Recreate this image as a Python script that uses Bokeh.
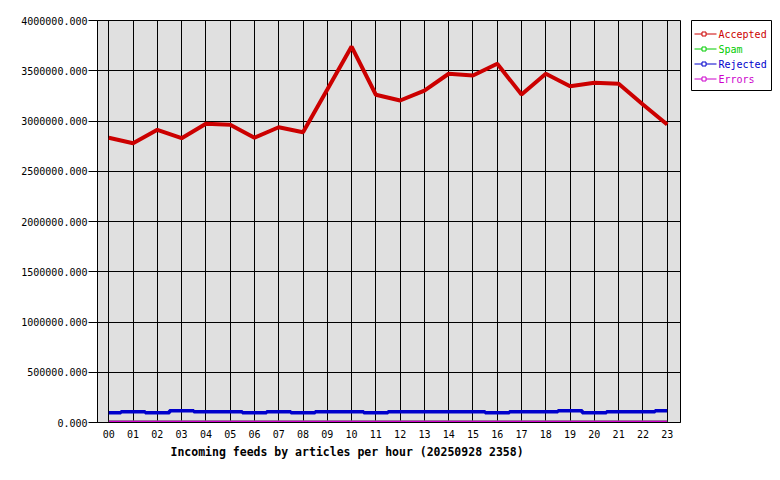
from bokeh.plotting import figure
from bokeh.models import (Range1d, FixedTicker, PrintfTickFormatter, Title, ColumnDataSource)
from bokeh.layouts import row
from bokeh.core.properties import value
from bokeh.embed import file_html
from bokeh.resources import INLINE

# ---- data ----
hours = list(range(24))
hour_labels = ["00", "01", "02", "03", "04", "05", "06", "07", "08", "09", "10", "11",
               "12", "13", "14", "15", "16", "17", "18", "19", "20", "21", "22", "23"]
accepted = [2833000, 2779000, 2912000, 2829000, 2972000, 2962000, 2833000, 2938000,
            2888000, 3313000, 3741000, 3261000, 3204000, 3303000, 3470000, 3453000,
            3569000, 3264000, 3470000, 3346000, 3380000, 3370000, 3164000, 2965000]
spam = [0, 0, 0, 0, 0, 0, 0, 0, 0, 0, 0, 0, 0, 0, 0, 0, 0, 0, 0, 0, 0, 0, 0, 0]
rejected = [96000, 107000, 96000, 118000, 107000, 107000, 96000, 107000,
            96000, 107000, 107000, 96000, 107000, 107000, 107000, 107000,
            96000, 107000, 107000, 118000, 96000, 107000, 107000, 118000]
errors = [0, 0, 0, 0, 0, 0, 0, 0, 0, 0, 0, 0, 0, 0, 0, 0, 0, 0, 0, 0, 0, 0, 0, 0]
y_ticks = [0, 500000, 1000000, 1500000, 2000000, 2500000, 3000000, 3500000, 4000000]
series_names = ["Accepted", "Spam", "Rejected", "Errors"]
series_colors = ["#cc0000", "#00cc00", "#0000cc", "#cc00cc"]
title_text = "Incoming feeds by articles per hour (20250928 2358)"

FONT = "DejaVu Sans Mono"

p = figure(width=690, height=475, output_backend="svg", toolbar_location=None,
           x_range=Range1d(-0.465, 23.548), y_range=Range1d(0, 4000000),
           min_border_left=97, min_border_right=10, min_border_top=20, min_border_bottom=53)
p.background_fill_color = "#e0e0e0"
p.border_fill_color = "white"
p.outline_line_color = "black"
p.outline_line_width = 1

# axes
p.xaxis.ticker = FixedTicker(ticks=hours)
p.xaxis.major_label_overrides = {h: l for h, l in zip(hours, hour_labels)}
p.yaxis.ticker = FixedTicker(ticks=y_ticks)
p.yaxis.formatter = PrintfTickFormatter(format="%.3f")
for ax in (p.xaxis, p.yaxis):
    ax.axis_line_color = "black"
    ax.minor_tick_line_color = None
    ax.major_label_text_font = FONT
    ax.major_label_text_font_size = "10px"
    ax.major_label_text_color = "black"
    ax.major_tick_line_color = "black"
    ax.major_tick_in = 0
p.xaxis.major_tick_out = 0
p.xaxis.major_label_standoff = 7
p.yaxis.major_tick_out = 9
p.yaxis.major_label_standoff = 1

for g in (p.xgrid, p.ygrid):
    g.grid_line_color = "black"
    g.grid_line_alpha = 1.0
    g.grid_line_width = 1

# series
src = ColumnDataSource(dict(x=hours, acc=accepted, spam=spam, rej=rejected, err=errors))
p.line("x", "acc", source=src, line_color=series_colors[0], line_width=4)
p.line("x", "spam", source=src, line_color=series_colors[1], line_width=4)
p.step("x", "rej", source=src, mode="center", line_color=series_colors[2], line_width=3.5)
p.step("x", "err", source=src, mode="center", line_color=series_colors[3], line_width=4)

p.add_layout(Title(text=title_text, align="left", offset=73, text_font=FONT,
                   text_font_style="bold", text_font_size="11.5px", text_color="black",
                   standoff=4), "below")

# ---- legend box as its own small figure ----
n = len(series_names)
row_h = 15
leg = figure(frame_width=80, frame_height=71, output_backend="svg", toolbar_location=None,
             x_range=Range1d(0, 80), y_range=Range1d(0, 71),
             x_axis_location=None, y_axis_location=None,
             min_border_left=1, min_border_right=1, min_border_top=19, min_border_bottom=1)
leg.grid.visible = False
leg.background_fill_color = "white"
leg.border_fill_color = "white"
leg.outline_line_color = "black"
leg.outline_line_width = 1

ys = [57.5 - row_h * i for i in range(n)]
lsrc = ColumnDataSource(dict(x0=[3] * n, x1=[25] * n, xm=[12.5] * n, xt=[27] * n,
                             y=ys, c=series_colors, t=series_names))
leg.segment(x0="x0", y0="y", x1="x1", y1="y", source=lsrc, line_color="c", line_width=1)
leg.scatter(x="xm", y="y", source=lsrc, marker="square", size=4, line_color="c",
            fill_color="white", line_width=1)
leg.text(x="xt", y="y", text="t", source=lsrc, text_color="c", text_font=value(FONT),
         text_font_size="10px", text_baseline="middle", text_align="left")

layout = row(p, leg, spacing=0)
open("out.html", "w").write(file_html(layout, INLINE))
